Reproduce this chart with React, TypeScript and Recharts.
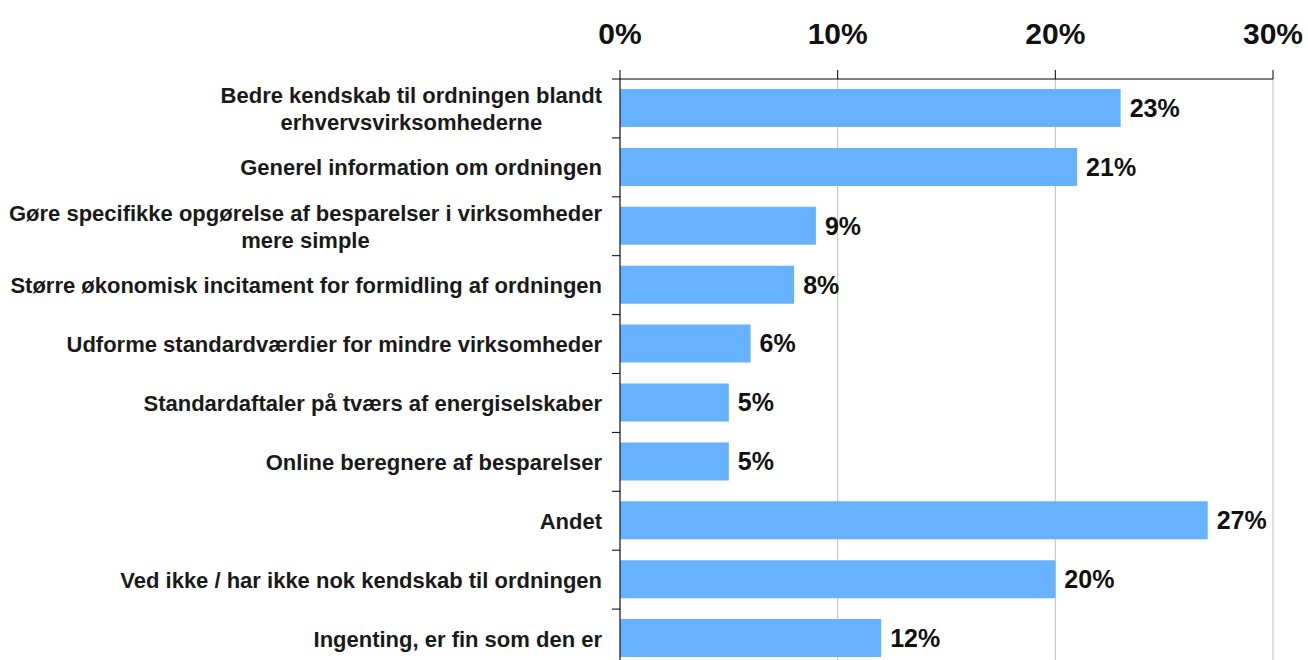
import { BarChart, Bar, XAxis, YAxis, CartesianGrid, LabelList } from "recharts";

const categories = [
  "Bedre kendskab til ordningen blandt\nerhvervsvirksomhederne",
  "Generel information om ordningen",
  "Gøre specifikke opgørelse af besparelser i virksomheder\nmere simple",
  "Større økonomisk incitament for formidling af ordningen",
  "Udforme standardværdier for mindre virksomheder",
  "Standardaftaler på tværs af energiselskaber",
  "Online beregnere af besparelser",
  "Andet",
  "Ved ikke / har ikke nok kendskab til ordningen",
  "Ingenting, er fin som den er",
];
const values = [23, 21, 9, 8, 6, 5, 5, 27, 20, 12];
const xTicks = [0, 10, 20, 30];

const data = categories.map((name, i) => ({ name, value: values[i] }));

const FONT = "'Liberation Sans', Arial, sans-serif";
const W = 1308;
const H = 680;
const AXIS_X = 620;
const TOP = 79;
const BOTTOM_MARGIN = 12;
const BAND = (H - TOP - BOTTOM_MARGIN) / categories.length;
const LABEL_RIGHT = 602;
const LABEL_SIZE = 22;
const LINE_H = 27;

let ctx: CanvasRenderingContext2D | null = null;
const measure = (s: string) => {
  if (!ctx) ctx = document.createElement("canvas").getContext("2d");
  if (!ctx) return s.length * 11;
  ctx.font = `bold ${LABEL_SIZE}px ${FONT}`;
  return ctx.measureText(s).width;
};

const CategoryTick = (props: any) => {
  const { y, payload, index } = props;
  const lines: string[] = String(payload.value).split("\n");
  const maxW = Math.max(...lines.map(measure));
  const cx = LABEL_RIGHT - maxW / 2;
  const startY = y - ((lines.length - 1) * LINE_H) / 2;
  return (
    <g>
      <line x1={AXIS_X - 8} x2={AXIS_X} y1={y - BAND / 2} y2={y - BAND / 2} stroke="#000" />
      {index === categories.length - 1 && (
        <line x1={AXIS_X - 8} x2={AXIS_X} y1={y + BAND / 2} y2={y + BAND / 2} stroke="#000" />
      )}
      <text
        x={cx}
        y={startY}
        textAnchor="middle"
        dominantBaseline="central"
        fontFamily={FONT}
        fontWeight="bold"
        fontSize={LABEL_SIZE}
        fill="#1a1a1a"
      >
        {lines.map((l, i) => (
          <tspan key={i} x={cx} dy={i === 0 ? 0 : LINE_H}>
            {l}
          </tspan>
        ))}
      </text>
    </g>
  );
};

export default function App() {
  return (
    <div style={{ position: "absolute", left: 0, top: 0, background: "#fff" }}>
      <BarChart
        width={W}
        height={H}
        data={data}
        layout="vertical"
        margin={{ top: 0, right: 35, bottom: BOTTOM_MARGIN, left: 0 }}
        barSize={38}
      >
        <CartesianGrid horizontal={false} stroke="#bfbfbf" />
        <XAxis
          type="number"
          orientation="top"
          domain={[0, 30]}
          ticks={xTicks}
          height={TOP}
          tickFormatter={(v) => `${v}%`}
          tickSize={9}
          tickMargin={26}
          axisLine={{ stroke: "#000" }}
          tickLine={{ stroke: "#000" }}
          tick={{ fill: "#111", fontSize: 30, fontWeight: "bold", fontFamily: FONT }}
          interval={0}
        />
        <YAxis
          type="category"
          dataKey="name"
          width={AXIS_X}
          axisLine={{ stroke: "#000" }}
          tickLine={false}
          tick={<CategoryTick />}
          interval={0}
        />
        <Bar dataKey="value" fill="#66B2FF" isAnimationActive={false}>
          <LabelList
            dataKey="value"
            position="right"
            offset={9}
            formatter={(v: any) => `${v}%`}
            style={{ fill: "#111", fontSize: 25, fontWeight: "bold", fontFamily: FONT }}
          />
        </Bar>
      </BarChart>
    </div>
  );
}
